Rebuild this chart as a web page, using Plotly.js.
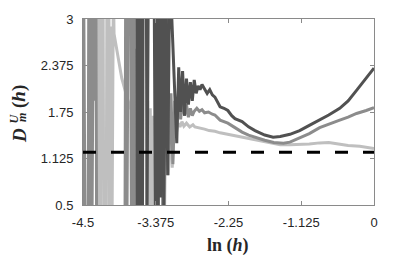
<!DOCTYPE html>
<html><head><meta charset="utf-8">
<script src="https://cdn.plot.ly/plotly-3.0.1.min.js"></script>
<style>html,body{margin:0;padding:0;background:#fff;}#c{width:415px;height:257px;}</style>
</head><body><div id="c"></div>
<script>
const xTicks = [-4.5, -3.375, -2.25, -1.125, 0];
const xTickText = ['-4.5', '-3.375', '-2.25', '-1.125', '0'];
const yTicks = [0.5, 1.125, 1.75, 2.375, 3];
const yTickText = ['0.5', '1.125', '1.75', '2.375', '3'];
const refLevel = 1.21;

const lightX = [-4.50,-4.26,-4.25,-4.23,-4.22,-4.19,-4.18,-4.14,-4.13,-4.10,-4.09,-4.07,-4.05,-4.03,-4.02,-3.96,-3.90,-3.82,-3.76,-3.75,-3.73,-3.71,-3.69,-3.67,-3.52,-3.50,-3.48,-3.46,-3.44,-3.42,-3.40,-3.24,-3.22,-3.18,-3.15,-3.12,-3.09,-3.06,-3.03,-3.00,-2.97,-2.94,-2.90,-2.85,-2.80,-2.77,-2.70,-2.62,-2.55,-2.46,-2.38,-2.26,-2.15,-2.04,-1.94,-1.84,-1.69,-1.55,-1.45,-1.30,-1.15,-1.00,-0.84,-0.70,-0.55,-0.40,-0.22,-0.10,0.00];
const lightY = [3.5,3.5,0.3,0.3,3.5,3.5,0.3,0.3,3.5,3.5,0.3,2.9,0.3,3.5,2.8,2.5,2.2,1.95,1.78,0.3,3.5,0.3,2.6,0.3,0.3,1.9,0.3,1.8,0.3,1.7,0.3,0.3,1.75,0.9,1.68,1.0,1.55,1.45,1.6,1.55,1.62,1.56,1.6,1.55,1.58,1.55,1.54,1.52,1.50,1.49,1.47,1.45,1.43,1.41,1.39,1.37,1.35,1.33,1.31,1.31,1.31,1.32,1.335,1.34,1.32,1.30,1.29,1.27,1.26];

const medX = [-4.50,-4.49,-4.47,-4.42,-4.41,-4.40,-4.38,-4.36,-4.34,-4.32,-4.30,-4.29,-3.85,-3.84,-3.82,-3.80,-3.76,-3.75,-3.72,-3.70,-3.38,-3.36,-3.33,-3.27,-3.25,-3.22,-3.20,-3.17,-3.14,-3.11,-3.08,-3.05,-3.02,-2.99,-2.96,-2.93,-2.90,-2.87,-2.84,-2.81,-2.78,-2.74,-2.70,-2.66,-2.62,-2.56,-2.50,-2.46,-2.38,-2.26,-2.15,-2.04,-1.94,-1.84,-1.69,-1.55,-1.40,-1.30,-1.15,-1.00,-0.84,-0.70,-0.53,-0.40,-0.27,-0.12,0.00];
const medY = [0.3,3.5,0.3,0.3,3.5,0.3,3.5,0.3,3.5,1.9,3.5,0.3,0.3,3.5,0.3,3.5,3.5,0.3,3.5,0.3,0.3,3.5,0.3,0.3,3.5,1.9,3.5,1.2,2.0,1.05,1.9,1.55,2.0,1.65,1.95,1.7,1.85,1.68,1.8,1.7,1.76,1.80,1.76,1.78,1.74,1.75,1.72,1.71,1.64,1.60,1.54,1.48,1.44,1.41,1.37,1.34,1.33,1.345,1.40,1.46,1.54,1.59,1.64,1.68,1.73,1.77,1.81];

const darkX = [-4.50,-3.67,-3.66,-3.64,-3.62,-3.60,-3.58,-3.57,-3.52,-3.51,-3.49,-3.40,-3.38,-3.36,-3.34,-3.32,-3.30,-3.27,-3.25,-3.22,-3.19,-3.16,-3.14,-3.09,-3.05,-3.02,-2.99,-2.96,-2.93,-2.90,-2.87,-2.84,-2.81,-2.78,-2.75,-2.72,-2.69,-2.66,-2.62,-2.58,-2.54,-2.50,-2.46,-2.42,-2.38,-2.32,-2.26,-2.20,-2.15,-2.04,-1.94,-1.84,-1.69,-1.56,-1.45,-1.30,-1.15,-1.00,-0.84,-0.70,-0.53,-0.40,-0.27,-0.15,-0.05,0.00];
const darkY = [3.5,3.5,0.3,3.5,0.3,3.5,0.3,3.5,3.5,0.3,3.5,3.5,0.3,3.5,0.3,3.5,0.6,3.5,0.3,3.5,0.9,3.5,3.3,2.2,1.33,2.35,1.75,2.3,1.7,2.2,1.85,2.15,1.9,2.18,2.0,2.1,2.05,2.12,2.06,2.0,2.05,1.98,1.95,1.88,1.82,1.80,1.77,1.70,1.66,1.62,1.55,1.50,1.44,1.41,1.42,1.45,1.50,1.57,1.64,1.71,1.80,1.90,2.04,2.18,2.29,2.34];

const lineW = 3;
const traces = [
  {x: lightX, y: lightY, mode: 'lines', line: {color: '#bfbfbf', width: lineW}, hoverinfo: 'skip'},
  {x: medX, y: medY, mode: 'lines', line: {color: '#8c8c8c', width: lineW}, hoverinfo: 'skip'},
  {x: darkX, y: darkY, mode: 'lines', line: {color: '#515151', width: lineW}, hoverinfo: 'skip'},
  {x: [xTicks[0], xTicks[xTicks.length-1]], y: [refLevel, refLevel], mode: 'lines', line: {color: '#000', width: 3, dash: '13px,15px'}, hoverinfo: 'skip'}
];

const tickFont = {family: 'Liberation Sans, Arial, sans-serif', size: 13, color: '#262626'};
const serif = 'Liberation Serif, DejaVu Serif, serif';
const plotW = 291, plotH = 186, L = 83, T = 19;
function px(sx){ return (sx - L)/plotW; }
function py(sy){ return (T + plotH - sy)/plotH; }

const layout = {
  width: 415, height: 257,
  margin: {l: L, r: 41, t: T, b: 52, pad: 0},
  paper_bgcolor: '#fff', plot_bgcolor: '#fff',
  showlegend: false,
  xaxis: {
    range: [-4.5, 0], tickvals: xTicks, ticktext: xTickText,
    showgrid: false, zeroline: false, showline: true, mirror: 'allticks',
    linecolor: '#8a8a8a', linewidth: 1, ticks: 'inside', ticklen: 4, tickcolor: '#8a8a8a',
    tickfont: tickFont, ticklabelstandoff: 5
  },
  yaxis: {
    range: [0.5, 3], tickvals: yTicks, ticktext: yTickText,
    showgrid: false, zeroline: false, showline: true, mirror: 'allticks',
    linecolor: '#8a8a8a', linewidth: 1, ticks: 'inside', ticklen: 4, tickcolor: '#8a8a8a',
    tickfont: tickFont, ticklabelstandoff: 6
  },
  annotations: [
    {xref: 'paper', yref: 'paper', x: px(228), y: py(245), text: '<b>ln</b>&nbsp;<b>(<i>h</i>)</b>', showarrow: false, font: {family: serif, size: 18, color: '#262626'}, xanchor: 'center', yanchor: 'middle'},
    {xref: 'paper', yref: 'paper', x: px(19), y: py(136), text: '<b><i>D</i></b>', showarrow: false, textangle: -90, font: {family: serif, size: 19, color: '#262626'}, xanchor: 'center', yanchor: 'middle'},
    {xref: 'paper', yref: 'paper', x: px(13.5), y: py(119), text: '<b><i>U</i></b>', showarrow: false, textangle: -90, font: {family: serif, size: 12, color: '#262626'}, xanchor: 'center', yanchor: 'middle'},
    {xref: 'paper', yref: 'paper', x: px(21.5), y: py(117.5), text: '<b><i>m</i></b>', showarrow: false, textangle: -90, font: {family: serif, size: 12, color: '#262626'}, xanchor: 'center', yanchor: 'middle'},
    {xref: 'paper', yref: 'paper', x: px(18.5), y: py(96.5), text: '<b>(<i>h</i>)</b>', showarrow: false, textangle: -90, font: {family: serif, size: 19, color: '#262626'}, xanchor: 'center', yanchor: 'middle'}
  ]
};
Plotly.newPlot('c', traces, layout, {staticPlot: true, displayModeBar: false});
</script></body></html>
